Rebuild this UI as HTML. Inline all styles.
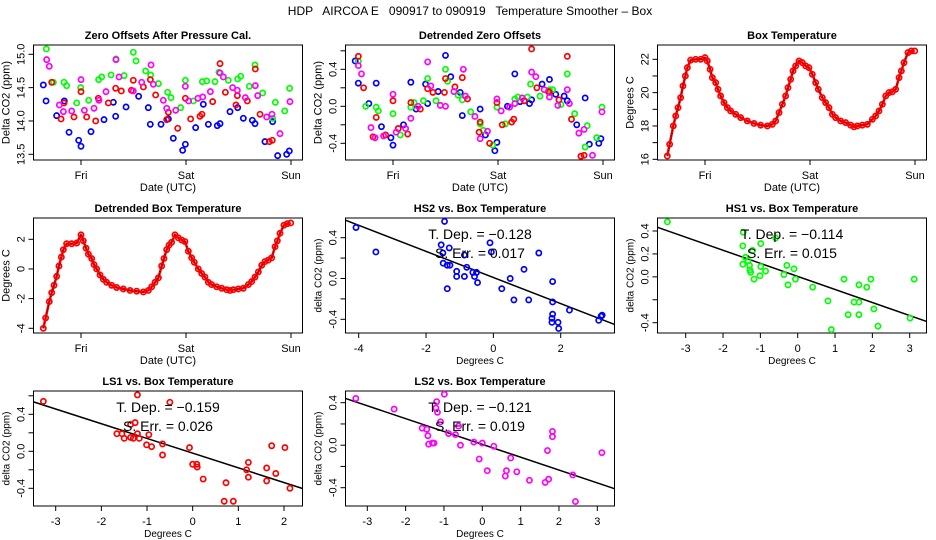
<!DOCTYPE html>
<html><head><meta charset="utf-8">
<style>
html,body{margin:0;padding:0;background:#fff;}
svg{display:block;font-family:"Liberation Sans",sans-serif;}
</style></head>
<body>
<svg id="chart" width="936" height="540" viewBox="0 0 936 540" xmlns="http://www.w3.org/2000/svg">
<text x="470" y="15" text-anchor="middle" font-size="12" xml:space="preserve">HDP   AIRCOA E   090917 to 090919   Temperature Smoother – Box</text>
</svg>
<script>
// ---------- Panel 1: zero offsets (time in days from Fri 00:00) ----------
const p1BlueT=[-0.359,-0.333,-0.232,-0.159,-0.114,-0.022,0,0.095,0.219,0.308,0.330,0.429,0.549,0.641,0.660,0.762,0.832,0.879,0.968,0.994,1.092,1.165,1.213,1.298,1.324,1.419,1.492,1.546,1.632,1.657,1.752,1.825,1.873,1.959,1.984];
const p1BlueV=[14.54,14.30,14.08,14.30,13.83,13.71,13.62,13.84,14.02,14.28,14.07,14.21,14.37,14.20,13.95,13.95,14.03,13.74,13.56,13.65,13.90,14.25,13.95,13.93,13.96,14.14,14.20,14.04,14.01,13.96,13.69,13.99,13.48,13.50,13.55];
const p1RedT=[-0.279,-0.190,-0.162,-0.067,0,0.054,0.140,0.165,0.260,0.330,0.384,0.498,0.480,0.594,0.660,0.711,0.816,0.832,0.921,0.994,1.044,1.133,1.152,1.254,1.324,1.375,1.476,1.489,1.584,1.660,1.705,1.794,1.822];
const p1RedV=[14.58,14.03,14.27,14.06,14.44,14.06,14.00,14.34,14.27,14.49,14.45,14.61,14.46,14.51,14.62,14.39,14.02,14.13,13.89,14.34,14.03,14.07,14.10,14.29,14.86,14.43,14.24,14.38,14.30,14.78,14.10,13.69,13.71];
const p1GreenT=[-0.330,-0.263,-0.162,-0.137,-0.041,-0.003,0.073,0.168,0.197,0.286,0.333,0.410,0.498,0.524,0.616,0.663,0.737,0.825,0.857,0.949,0.994,1.070,1.156,1.197,1.276,1.314,1.403,1.492,1.521,1.603,1.657,1.730,1.825,1.851,1.940,1.987];
const p1GreenV=[15.08,14.58,14.58,14.53,14.27,14.50,14.31,14.62,14.66,14.69,14.93,14.68,15.03,14.90,14.75,14.69,14.56,14.43,14.35,14.20,14.61,14.30,14.59,14.60,14.59,14.73,14.61,14.63,14.67,14.52,14.84,14.42,14.04,14.28,14.15,14.49];
const p1MagT=[-0.327,-0.302,-0.206,-0.168,-0.089,0,0.032,0.124,0.171,0.238,0.333,0.362,0.498,0.578,0.667,0.689,0.784,0.816,0.902,0.994,1.025,1.114,1.159,1.232,1.324,1.356,1.444,1.489,1.565,1.660,1.683,1.768,1.819,1.895,1.990];
const p1MagV=[14.92,14.82,14.24,14.14,14.15,14.62,14.16,14.19,14.31,14.44,14.92,14.66,14.45,14.58,14.84,14.55,14.31,14.19,14.16,14.52,14.30,14.34,14.36,14.44,14.72,14.66,14.50,14.46,14.35,14.53,14.38,14.06,14.10,13.81,14.29];
// ---------- Panel 2: detrended zero offsets ----------
const p2BlueT=[-0.36,-0.33,-0.23,-0.16,-0.11,-0.02,0,0.10,0.17,0.22,0.31,0.33,0.43,0.50,0.55,0.66,0.64,0.83,0.88,0.97,0.99,1.09,1.16,1.21,1.30,1.32,1.42,1.49,1.55,1.63,1.66,1.75,1.83,1.87,1.96,1.98];
const p2BlueV=[0.49,0.25,0.03,0.25,-0.22,-0.34,-0.42,-0.20,0.26,-0.03,0.24,0.03,0.16,0.55,0.32,-0.10,0.15,-0.03,-0.31,-0.48,-0.39,0.0,0.35,0.05,0.03,0.07,0.24,0.29,0.13,0.11,0.06,-0.20,0.09,-0.41,-0.40,-0.35];
const p2RedT=[-0.33,-0.28,-0.16,-0.19,-0.07,0,0.05,0.14,0.17,0.26,0.33,0.38,0.50,0.49,0.59,0.66,0.71,0.82,0.83,0.92,0.99,1.04,1.13,1.15,1.25,1.32,1.37,1.48,1.49,1.58,1.66,1.70,1.79,1.82];
const p2RedV=[0.54,0.20,-0.12,-0.33,-0.31,0.06,-0.24,-0.30,0.04,-0.03,0.19,0.15,0.30,0.15,0.21,0.31,0.08,-0.28,-0.17,-0.40,0.04,-0.20,-0.17,-0.14,0.06,0.62,0.20,0.16,0.15,0.07,0.54,-0.14,-0.54,-0.53];
const p2GreenT=[-0.33,-0.26,-0.16,-0.14,0,0.07,0.17,0.20,0.29,0.33,0.41,0.50,0.52,0.62,0.66,0.74,0.83,0.86,0.95,0.99,1.07,1.16,1.19,1.28,1.31,1.40,1.49,1.52,1.60,1.66,1.73,1.83,1.85,1.94,1.99];
const p2GreenV=[0.49,0.0,-0.01,-0.05,-0.08,-0.31,-0.01,0.04,0.06,0.30,0.06,0.40,0.27,0.12,0.07,-0.06,-0.19,-0.26,-0.42,-0.01,-0.19,0.08,0.10,0.10,0.24,0.11,0.18,0.18,0.02,0.35,-0.08,-0.44,-0.21,-0.34,-0.01];
const p2MagT=[-0.33,-0.30,-0.21,-0.17,-0.09,0,0.03,0.12,0.17,0.24,0.33,0.36,0.45,0.50,0.58,0.67,0.69,0.78,0.83,0.90,0.99,1.03,1.11,1.16,1.23,1.32,1.36,1.44,1.49,1.57,1.66,1.68,1.77,1.82,1.90,1.99];
const p2MagV=[0.44,0.35,-0.23,-0.34,-0.32,0.13,-0.28,-0.24,-0.13,0.0,0.48,0.22,0.01,0.0,0.16,0.40,0.11,-0.11,-0.35,-0.27,0.08,-0.05,-0.01,0.03,0.09,0.37,0.32,0.18,0.10,0.01,0.18,0.03,-0.29,-0.25,-0.53,-0.06];
// ---------- Panels 3 & 4: box temperature ----------
const boxT=[-0.359,-0.337,-0.302,-0.279,-0.257,-0.232,-0.210,-0.187,-0.168,-0.137,-0.089,-0.041,0,0.022,0.048,0.070,0.102,0.124,0.149,0.181,0.213,0.244,0.292,0.340,0.403,0.467,0.530,0.594,0.641,0.673,0.705,0.737,0.768,0.790,0.816,0.838,0.863,0.895,0.927,0.959,0.990,1.022,1.054,1.079,1.117,1.149,1.181,1.213,1.244,1.292,1.340,1.387,1.419,1.451,1.498,1.546,1.594,1.625,1.657,1.689,1.721,1.752,1.784,1.816,1.848,1.870,1.895,1.933,1.965,1.997];
const boxTemp=[16.2,16.9,18.0,18.6,19.1,19.7,20.4,21.0,21.5,21.95,22.0,22.0,22.1,21.9,21.4,20.9,20.6,20.2,19.8,19.4,19.1,18.9,18.7,18.5,18.3,18.15,18.05,18.0,18.1,18.3,18.8,19.3,19.8,20.3,20.8,21.3,21.6,21.9,21.8,21.6,21.5,21.1,20.6,20.2,19.7,19.4,19.1,18.7,18.5,18.3,18.2,18.05,17.95,18.0,18.05,18.1,18.4,18.6,18.9,19.3,19.8,20.0,20.05,20.2,20.9,21.3,21.8,22.4,22.5,22.5];
const boxDetr=[-4.0,-3.3,-2.2,-1.6,-1.1,-0.5,0.2,0.8,1.3,1.7,1.7,1.75,2.3,1.9,1.4,1.0,0.7,0.3,0.0,-0.4,-0.7,-0.9,-1.1,-1.25,-1.35,-1.45,-1.5,-1.55,-1.45,-1.2,-0.9,-0.6,0.2,0.7,1.3,1.6,1.8,2.3,2.1,1.95,1.85,1.2,0.75,0.45,0.0,-0.3,-0.55,-0.9,-1.05,-1.2,-1.3,-1.4,-1.45,-1.4,-1.35,-1.3,-1.05,-0.85,-0.55,-0.2,0.25,0.5,0.6,0.75,1.5,1.9,2.4,2.95,3.05,3.1];
// ---------- Scatter panels ----------
const hs2X=[-4.08,-3.49,-1.45,-1.55,-1.50,-1.49,-1.31,-1.37,-1.29,-1.37,-1.09,-1.09,-0.86,-0.86,-0.79,-0.61,-0.56,-0.50,-0.47,-0.10,-0.06,0.25,0.50,0.61,1.05,0.91,1.35,1.76,1.76,1.76,1.74,1.74,1.92,1.94,2.26,3.13,3.23,3.20];
const hs2Y=[0.50,0.26,0.56,0.33,0.25,0.15,0.30,0.13,0.13,-0.10,0.07,0.02,0.23,0.02,0.11,0.06,0.02,0.06,-0.04,0.35,0.26,-0.10,0.0,-0.21,-0.21,0.09,0.25,-0.03,-0.23,-0.35,-0.39,-0.43,-0.43,-0.49,-0.31,-0.41,-0.36,-0.37];
const hs2Fit=[0.01,-0.128]; const hs2Stats=["−0.128","0.017"];
const hs1X=[-3.49,-1.46,-1.47,-0.59,-0.99,-1.21,-1.40,-1.47,-1.33,-1.29,-1.28,-1.26,-1.17,-1.01,-0.99,-0.86,-0.29,-0.37,-0.10,-0.06,-0.26,0.40,0.81,1.24,1.35,1.51,1.64,1.64,1.64,1.85,1.96,2.04,2.15,3.01,3.12,0.90];
const hs1Y=[0.48,0.39,0.27,0.34,0.29,0.23,0.17,0.11,0.14,0.10,0.06,0.04,-0.02,0.01,0.09,0.05,0.10,0.02,0.07,-0.02,-0.07,-0.09,-0.21,-0.02,-0.33,-0.22,-0.22,-0.33,-0.07,-0.09,-0.02,-0.28,-0.43,-0.36,-0.02,-0.46];
const hs1Fit=[0.004,-0.114]; const hs1Stats=["−0.114","0.015"];
const ls1X=[-3.27,-1.21,-1.36,-1.26,-1.66,-1.55,-1.50,-1.36,-1.30,-1.21,-1.17,-0.96,-1.01,-0.90,-0.66,-0.66,-0.50,-0.07,0.0,0.09,0.10,0.23,0.73,0.89,0.69,1.18,1.22,1.22,1.62,1.62,1.73,1.82,2.02,2.13];
const ls1Y=[0.54,0.61,0.29,0.31,0.19,0.19,0.14,0.15,0.14,0.19,0.14,0.18,0.07,0.05,0.08,-0.04,0.53,0.04,-0.14,-0.14,-0.17,-0.30,-0.34,-0.54,-0.54,-0.20,-0.12,-0.28,-0.18,-0.32,0.06,-0.24,0.04,-0.40];
const ls1Fit=[-0.02,-0.159]; const ls1Stats=["−0.159","0.026"];
const ls2X=[-3.30,-2.30,-0.99,-1.19,-1.21,-1.17,-1.09,-1.57,-1.45,-1.42,-1.40,-1.30,-1.26,-0.88,-0.70,-0.62,-0.57,-0.22,0.0,-0.08,0.13,0.30,0.60,0.63,0.74,0.90,1.23,1.70,1.64,1.73,1.83,1.83,2.36,2.43,3.12];
const ls2Y=[0.44,0.34,0.48,0.41,0.35,0.31,0.22,0.16,0.15,0.09,0.01,0.02,0.02,0.11,0.10,0.18,0.0,0.03,0.02,-0.13,-0.24,-0.01,-0.29,-0.24,-0.12,-0.25,-0.33,-0.05,-0.35,-0.32,0.13,0.08,-0.28,-0.53,-0.07];
const ls2Fit=[0.008,-0.121]; const ls2Stats=["−0.121","0.019"];

const NS="http://www.w3.org/2000/svg";
const svg=document.getElementById('chart');
function mk(tag,attrs,parent,text){const e=document.createElementNS(NS,tag);for(const k in attrs)e.setAttribute(k,attrs[k]);if(text!==undefined)e.textContent=text;(parent||svg).appendChild(e);return e;}
function lin(v1,p1,v2,p2){return v=>p1+(v-v1)*(p2-p1)/(v2-v1);}
const BW=269,BH=115;

function panel(o){
  const g=mk('g',{});
  
  
  const x0=o.x0,y0=o.y0;
  const box=mk('rect',{x:x0,y:y0,width:BW,height:BH,fill:'none',stroke:'#000','stroke-width':1},g);
  
  
  const t=mk('text',{x:x0+BW/2,y:y0-6,'text-anchor':'middle','font-size':11,'font-weight':'bold'},g,o.title);
  
  
  const xs=o.xs, ys=o.ys;
  const xa=mk('g',{},g);
  
  
  const xt=o.xTicks;
  mk('line',{x1:xs(xt[0]),x2:xs(xt[xt.length-1]),y1:y0+BH,y2:y0+BH,stroke:'#000'},xa);
  xt.forEach((v,i)=>{
    mk('line',{x1:xs(v),x2:xs(v),y1:y0+BH,y2:y0+BH+5,stroke:'#000'},xa);
    const lb=mk('text',{x:xs(v),y:y0+BH+19,'text-anchor':'middle','font-size':11},xa,o.xLabels[i]);
    
    
  });
  const xtl=mk('text',{x:x0+BW/2,y:y0+BH+31,'text-anchor':'middle','font-size':o.axFs||11},g,o.xTitle);
  
  
  const ya=mk('g',{},g);
  
  
  const yt=o.yTicks;
  mk('line',{x1:x0,x2:x0,y1:ys(yt[0]),y2:ys(yt[yt.length-1]),stroke:'#000'},ya);
  yt.forEach((v,i)=>{
    mk('line',{x1:x0-5,x2:x0,y1:ys(v),y2:ys(v),stroke:'#000'},ya);
    if(o.yLabels[i]){
      const cx=x0-9,cy=ys(v);
      const lb=mk('text',{x:cx,y:cy,'text-anchor':'middle','font-size':11,transform:`rotate(-90 ${cx} ${cy})`},ya,o.yLabels[i]);
      
      
    }
  });
  const cx=x0-24,cy=y0+BH/2;
  const ytl=mk('text',{x:cx,y:cy,'text-anchor':'middle','font-size':o.axFs||11,transform:`rotate(-90 ${cx} ${cy})`},g,o.yTitle);
  
  
  return g;
}
function points(g,X,Y,xs,ys,color,name){
  const s=mk('g',{},g);
  
  
  X.forEach((v,i)=>{
    const c=mk('circle',{cx:xs(v),cy:ys(Y[i]),r:2.6,fill:'none',stroke:color,'stroke-width':1.7},s);
    
    
  });
}
function fitLine(g,fit,xs,ys,x0){
  const a=fit[0],b=fit[1];
  const xl=xs.inv(x0), xr=xs.inv(x0+BW);
  const l=mk('line',{x1:x0,y1:ys(a+b*xl),x2:x0+BW,y2:ys(a+b*xr),stroke:'#000','stroke-width':1.5},g);
  
  
}
function stats(g,st,x0,y0){
  const t1=mk('text',{x:x0+BW/2,y:y0+21,'text-anchor':'middle','font-size':14,'xml:space':'preserve'},g,'T. Dep. =  '+st[0]);
  
  
  const t2=mk('text',{x:x0+BW/2,y:y0+40,'text-anchor':'middle','font-size':14,'xml:space':'preserve'},g,'S. Err. =  '+st[1]);
  
  
}
function linInv(v1,p1,v2,p2){const f=lin(v1,p1,v2,p2);f.inv=p=>v1+(p-p1)*(v2-v1)/(p2-p1);return f;}

const dayL=['Fri','Sat','Sun'], dayT=[0,1,2];
(function(){
  const x0=33.5,y0=45, xs=lin(0,81,1,186), ys=lin(15,54.3,13.5,154.3);
  const g=panel({name:'panel-zero-offsets',x0,y0,xs,ys,title:'Zero Offsets After Pressure Cal.',xTicks:dayT,xLabels:dayL,yTicks:[13.5,14,14.5,15],yLabels:['13.5','14.0','14.5','15.0'],xTitle:'Date (UTC)',yTitle:'Delta CO2 (ppm)'});
  points(g,p1BlueT,p1BlueV,xs,ys,'#0000ff','series-hs2');
  points(g,p1GreenT,p1GreenV,xs,ys,'#00ff00','series-hs1');
  points(g,p1RedT,p1RedV,xs,ys,'#ff0000','series-ls1');
  points(g,p1MagT,p1MagV,xs,ys,'#ff00ff','series-ls2');
})();
(function(){
  const x0=345.5,y0=45, xs=lin(0,393,1,498), ys=lin(0.4,69.3,-0.4,143.3);
  const g=panel({name:'panel-detrended-offsets',x0,y0,xs,ys,title:'Detrended Zero Offsets',xTicks:dayT,xLabels:dayL,yTicks:[-0.4,-0.2,0,0.2,0.4,0.6],yLabels:['-0.4','','0.0','','0.4',''],xTitle:'Date (UTC)',yTitle:'Delta CO2 (ppm)'});
  points(g,p2BlueT,p2BlueV,xs,ys,'#0000ff','series-hs2');
  points(g,p2GreenT,p2GreenV,xs,ys,'#00ff00','series-hs1');
  points(g,p2RedT,p2RedV,xs,ys,'#ff0000','series-ls1');
  points(g,p2MagT,p2MagV,xs,ys,'#ff00ff','series-ls2');
})();
function tempPanel(o,T,V){
  const g=panel(o);
  const pl=mk('polyline',{points:T.map((t,i)=>o.xs(t)+','+o.ys(V[i])).join(' '),fill:'none',stroke:'#ff0000','stroke-width':2.5,'stroke-linejoin':'round'},g);
  
  
  const pk=mk('polyline',{points:T.map((t,i)=>o.xs(t)+','+o.ys(V[i])).join(' '),fill:'none',stroke:'#000','stroke-width':1,'stroke-dasharray':'1 1.5'},g);
  
  
  points(g,T,V,o.xs,o.ys,'#ff0000','series-temperature');
}
tempPanel({name:'panel-box-temperature',x0:657.5,y0:45,xs:lin(0,705,1,810),ys:lin(22,59.3,16,159.3),title:'Box Temperature',xTicks:dayT,xLabels:dayL,yTicks:[16,17,18,19,20,21,22],yLabels:['16','','18','','20','','22'],xTitle:'Date (UTC)',yTitle:'Degrees C'},boxT,boxTemp);
tempPanel({name:'panel-detrended-temperature',x0:33.5,y0:218,xs:lin(0,81,1,186),ys:lin(2,239.3,-4,328.3),title:'Detrended Box Temperature',xTicks:dayT,xLabels:dayL,yTicks:[-4,-2,0,2],yLabels:['-4','-2','0','2'],xTitle:'Date (UTC)',yTitle:'Degrees C'},boxT,boxDetr);

function scatterPanel(o,X,Y,color,fit,st){
  const g=panel(o);
  fitLine(g,fit,o.xs,o.ys,o.x0);
  points(g,X,Y,o.xs,o.ys,color,'scatter-points');
  stats(g,st,o.x0,o.y0);
}
const yT6=[-0.4,-0.2,0,0.2,0.4];
scatterPanel({name:'panel-hs2-vs-temp',x0:345.5,y0:218,xs:linInv(-4,358.7,2,560.7),ys:lin(0.4,237.7,-0.4,319.3),title:'HS2 vs. Box Temperature',xTicks:[-4,-2,0,2],xLabels:['-4','-2','0','2'],yTicks:yT6,yLabels:['-0.4','','0.0','','0.4'],xTitle:'Degrees C',yTitle:'delta CO2 (ppm)',axFs:10},hs2X,hs2Y,'#0000ff',hs2Fit,hs2Stats);
scatterPanel({name:'panel-hs1-vs-temp',x0:657.5,y0:218,xs:linInv(-3,685.7,3,909.7),ys:lin(0.4,231,-0.4,322.7),title:'HS1 vs. Box Temperature',xTicks:[-3,-2,-1,0,1,2,3],xLabels:['-3','-2','-1','0','1','2','3'],yTicks:yT6,yLabels:['-0.4','','0.0','0.2','0.4'],xTitle:'Degrees C',yTitle:'delta CO2 (ppm)',axFs:10},hs1X,hs1Y,'#00ff00',hs1Fit,hs1Stats);
scatterPanel({name:'panel-ls1-vs-temp',x0:33.5,y0:391,xs:linInv(-3,55.7,2,284),ys:lin(0.4,414.3,-0.4,488.3),title:'LS1 vs. Box Temperature',xTicks:[-3,-2,-1,0,1,2],xLabels:['-3','-2','-1','0','1','2'],yTicks:[-0.4,-0.2,0,0.2,0.4,0.6],yLabels:['-0.4','','0.0','','0.4',''],xTitle:'Degrees C',yTitle:'delta CO2 (ppm)',axFs:10},ls1X,ls1Y,'#ff0000',ls1Fit,ls1Stats);
scatterPanel({name:'panel-ls2-vs-temp',x0:345.5,y0:391,xs:linInv(-3,367.3,3,597.3),ys:lin(0.4,402.7,-0.4,487.7),title:'LS2 vs. Box Temperature',xTicks:[-3,-2,-1,0,1,2,3],xLabels:['-3','-2','-1','0','1','2','3'],yTicks:yT6,yLabels:['-0.4','','0.0','','0.4'],xTitle:'Degrees C',yTitle:'delta CO2 (ppm)',axFs:10},ls2X,ls2Y,'#ff00ff',ls2Fit,ls2Stats);
</script>
</body></html>
